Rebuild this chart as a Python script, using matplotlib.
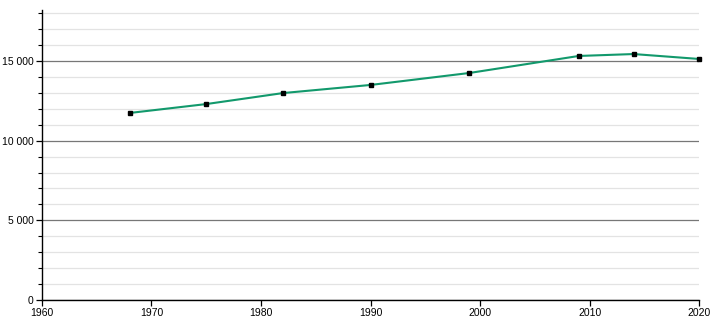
import matplotlib.pyplot as plt
from matplotlib.ticker import FuncFormatter, MultipleLocator

years = [1968, 1975, 1982, 1990, 1999, 2009, 2014, 2020]
population = [11740, 12300, 12990, 13500, 14250, 15320, 15440, 15130]

plt.rcParams["font.family"] = ["Liberation Sans", "DejaVu Sans"]

fig = plt.figure(figsize=(7.1, 3.2), dpi=100)
ax = fig.add_axes([0.059, 0.0625, 0.926, 0.906])

ax.set_xlim(1960, 2020)
ax.set_ylim(0, 18200)

ax.yaxis.set_major_locator(MultipleLocator(5000))
ax.yaxis.set_minor_locator(MultipleLocator(1000))
ax.xaxis.set_major_locator(MultipleLocator(10))
ax.yaxis.set_major_formatter(FuncFormatter(lambda v, _: f"{int(v):,}".replace(",", " ")))

ax.grid(axis="y", which="minor", color="#e3e3e3", linewidth=0.9)
ax.grid(axis="y", which="major", color="#777777", linewidth=0.9)
ax.set_axisbelow(True)

ax.plot(years, population, color="#12996c", linewidth=1.5, zorder=3)
ax.plot(years, population, linestyle="none", marker="s", markersize=3.2,
        color="black", zorder=4, clip_on=False)

for side in ("top", "right"):
    ax.spines[side].set_visible(False)
ax.spines["left"].set_linewidth(1.0)
ax.spines["bottom"].set_linewidth(1.0)

ax.tick_params(axis="both", which="major", labelsize=7.5, length=4, width=0.9, pad=2)
ax.tick_params(axis="y", which="minor", length=3, width=0.8)

fig.savefig("out.png", dpi=100)
plt.close(fig)
